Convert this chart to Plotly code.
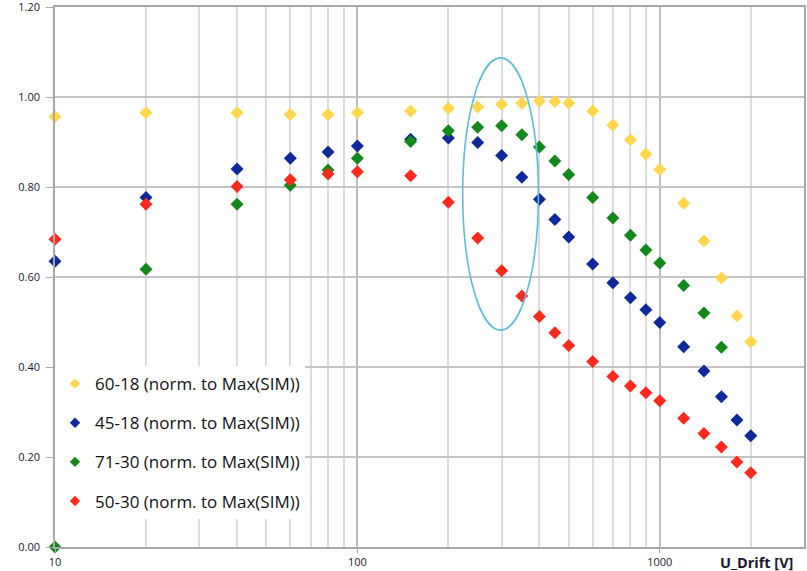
import plotly.graph_objects as go

u_drift = [10, 20, 40, 60, 80, 100, 150, 200, 250, 300, 350, 400, 450, 500,
           600, 700, 800, 900, 1000, 1200, 1400, 1600, 1800, 2000]

s60_18 = [0.956, 0.965, 0.965, 0.961, 0.961, 0.965, 0.969, 0.975, 0.978, 0.984,
          0.986, 0.991, 0.990, 0.987, 0.969, 0.938, 0.905, 0.873, 0.839, 0.764,
          0.680, 0.598, 0.514, 0.456]
s45_18 = [0.635, 0.777, 0.840, 0.864, 0.878, 0.891, 0.906, 0.909, 0.899, 0.870,
          0.822, 0.773, 0.728, 0.689, 0.629, 0.587, 0.554, 0.527, 0.499, 0.445,
          0.391, 0.334, 0.282, 0.247]
u_drift_71 = [10, 20, 40, 60, 80, 100, 150, 200, 250, 300, 350, 400, 450, 500,
              600, 700, 800, 900, 1000, 1200, 1400, 1600]
s71_30 = [0.000, 0.617, 0.762, 0.804, 0.838, 0.864, 0.901, 0.925, 0.933, 0.936,
          0.916, 0.889, 0.858, 0.828, 0.777, 0.731, 0.693, 0.660, 0.631, 0.581,
          0.520, 0.444]
s50_30 = [0.684, 0.762, 0.801, 0.816, 0.829, 0.834, 0.825, 0.766, 0.687, 0.614,
          0.558, 0.512, 0.476, 0.448, 0.412, 0.379, 0.358, 0.343, 0.325, 0.286,
          0.252, 0.222, 0.189, 0.165]

series = [
    ("60-18 (norm. to Max(SIM))", u_drift, s60_18, "#FFD64D"),
    ("45-18 (norm. to Max(SIM))", u_drift, s45_18, "#0E2A9A"),
    ("71-30 (norm. to Max(SIM))", u_drift_71, s71_30, "#13891B"),
    ("50-30 (norm. to Max(SIM))", u_drift, s50_30, "#FF2A1E"),
]

x_ticks = [10, 100, 1000]
x_ticktext = ["10", "100", "1000"]
y_ticks = [0.0, 0.2, 0.4, 0.6, 0.8, 1.0, 1.2]

fig = go.Figure()
for i, (name, xs, ys, col) in enumerate(series):
    fig.add_trace(go.Scatter(
        x=xs, y=ys, mode="markers", name=name, showlegend=False,
        marker=dict(symbol="diamond", size=10, color=col, line=dict(width=0)),
        cliponaxis=False,
    ))
# legend entries with the smaller legend symbols
for i, (name, xs, ys, col) in enumerate(series):
    fig.add_trace(go.Scatter(
        x=[None], y=[None], mode="markers", name=name, legendgroup=f"g{i}",
        marker=dict(symbol="diamond", size=8, color=col, line=dict(width=0)),
    ))

# highlight ellipse around ~300 V
fig.add_shape(type="circle", xref="x", yref="y",
              x0=223, x1=397, y0=0.482, y1=1.087,
              line=dict(color="#5BBFDA", width=1.6), layer="above")

fig.add_annotation(text="<b>U_Drift [V]</b>", xref="paper", yref="paper",
                   x=0.937, y=-0.028, showarrow=False, xanchor="center",
                   yanchor="middle",
                   font=dict(family="Open Sans", size=14.5, color="#1a1a2e"))

fig.update_layout(
    width=807, height=571,
    margin=dict(l=55, r=3, t=7, b=24),
    paper_bgcolor="white", plot_bgcolor="white",
    showlegend=True,
    legend=dict(x=0.0, y=0.335, xanchor="left", yanchor="top",
                bgcolor="white", borderwidth=0,
                traceorder="grouped", tracegroupgap=14,
                font=dict(family="Open Sans", size=17, color="#111111"),
                itemsizing="trace"),
    font=dict(family="Open Sans", size=11, color="#1a1a2e"),
)

fig.update_xaxes(
    type="log", range=[1, 3.4771], automargin=False,
    tickvals=x_ticks, ticktext=x_ticktext, ticklabeloverflow="allow",
    showgrid=True, gridcolor="#BDBDBD", gridwidth=1.5,
    minor=dict(dtick="D1", showgrid=True, gridcolor="#DCDCDC", gridwidth=1.5,
               ticks=""),
    ticks="outside", ticklen=4, tickcolor="#AAAAAA",
    showline=True, linecolor="#A8A8A8", linewidth=1.5, mirror=True,
    tickfont=dict(size=11, color="#1a1a2e"), zeroline=False,
)
fig.update_yaxes(
    range=[0, 1.2001], tickvals=y_ticks, tickformat=".2f", automargin=False,
    ticklabeloverflow="allow",
    showgrid=True, gridcolor="#C4C4C4", gridwidth=1.5,
    ticks="outside", ticklen=7, tickcolor="#AAAAAA", ticklabelstandoff=4,
    showline=True, linecolor="#A8A8A8", linewidth=1.5, mirror=True,
    tickfont=dict(size=11, color="#1a1a2e"), zeroline=False,
)

fig.write_html("out.html",
               config={"displayModeBar": False},
               post_script="document.body.style.margin='0';"
                           "document.body.style.overflow='hidden';")
